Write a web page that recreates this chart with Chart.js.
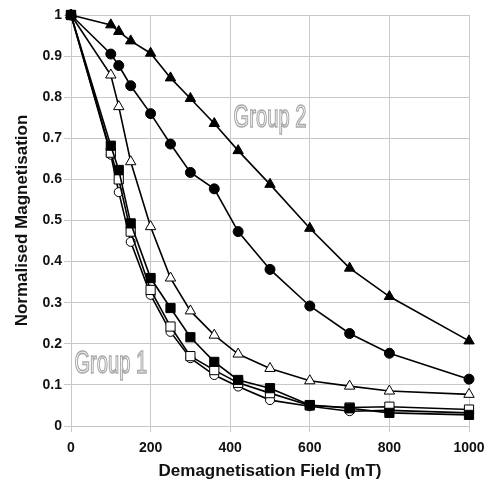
<!DOCTYPE html>
<html lang="en">
<head>
    <meta charset="UTF-8">
    <title>Demagnetisation</title>
    <script src="https://cdn.jsdelivr.net/npm/chart.js"></script>
    <style>
        body { margin: 0; background: #fff; }
        #wrap { width: 487px; height: 488px; }
    </style>
</head>
<body>
    <div id="wrap"><canvas id="demagChart"></canvas></div>

    <script>
        // demagnetisation field steps (mT)
        const fields = [0, 100, 120, 150, 200, 250, 300, 360, 420, 500, 600, 700, 800, 1000];

        // group 2
        const filledTriangles = [1, 0.976, 0.96, 0.937, 0.907, 0.847, 0.797, 0.736, 0.670, 0.588, 0.481, 0.384, 0.315, 0.207];
        const filledCircles   = [1, 0.905, 0.877, 0.828, 0.760, 0.686, 0.617, 0.577, 0.473, 0.381, 0.292, 0.225, 0.177, 0.114];
        // in between
        const openTriangles   = [1, 0.854, 0.777, 0.643, 0.485, 0.360, 0.280, 0.221, 0.175, 0.140, 0.110, 0.097, 0.085, 0.077];
        // group 1
        const filledSquares   = [1, 0.682, 0.623, 0.493, 0.360, 0.287, 0.216, 0.156, 0.112, 0.092, 0.051, 0.043, 0.032, 0.027];
        const openSquares     = [1, 0.665, 0.600, 0.473, 0.331, 0.242, 0.170, 0.136, 0.105, 0.080, 0.050, 0.045, 0.047, 0.040];
        const openCircles     = [1, 0.660, 0.569, 0.448, 0.319, 0.229, 0.165, 0.124, 0.096, 0.063, 0.048, 0.036, 0.038, 0.032];

        const xTicks = [0, 200, 400, 600, 800, 1000];
        const groupLabels = [
            { text: 'Group 2', x: 500, y: 0.75 },
            { text: 'Group 1', x: 100, y: 0.15 }
        ];

        const pts = arr => arr.map((v, i) => ({ x: fields[i], y: v }));

        function series(values, style, filled, radius) {
            return {
                data: pts(values),
                showLine: true,
                clip: false,
                borderColor: '#000',
                borderWidth: 1.6,
                pointStyle: style,
                pointRadius: radius,
                pointBorderWidth: 1,
                pointBorderColor: '#000',
                pointBackgroundColor: filled ? '#000' : '#fff'
            };
        }

        const groupText = {
            id: 'groupText',
            afterDatasetsDraw(chart) {
                const { ctx, scales } = chart;
                ctx.save();
                ctx.font = '32px "Liberation Sans", Arial, sans-serif';
                ctx.textAlign = 'center';
                ctx.textBaseline = 'middle';
                groupLabels.forEach(g => {
                    const px = scales.x.getPixelForValue(g.x);
                    const py = scales.y.getPixelForValue(g.y);
                    ctx.save();
                    ctx.translate(px, py);
                    ctx.scale(0.63, 1);
                    ctx.fillStyle = '#fff';
                    ctx.fillText(g.text, 0, 0);
                    ctx.strokeStyle = '#aaa';
                    ctx.lineWidth = 1.6;
                    ctx.strokeText(g.text, 0, 0);
                    ctx.restore();
                });
                ctx.restore();
            }
        };

        const gridColor = '#c8c8c8';
        const tickFont = { family: '"Liberation Sans", Arial, sans-serif', size: 14, weight: 'bold' };
        const titleFont = { family: '"Liberation Sans", Arial, sans-serif', size: 17, weight: 'bold' };

        const ctx = document.getElementById('demagChart').getContext('2d');
        new Chart(ctx, {
            type: 'scatter',
            data: {
                datasets: [
                    // first dataset is drawn on top
                    series(filledSquares, 'rect', true, 6.5),
                    series(filledTriangles, 'triangle', true, 6),
                    series(filledCircles, 'circle', true, 5),
                    series(openTriangles, 'triangle', false, 6),
                    series(openSquares, 'rect', false, 6.5),
                    series(openCircles, 'circle', false, 4.5)
                ]
            },
            options: {
                responsive: true,
                maintainAspectRatio: false,
                animation: false,
                layout: { padding: { top: 15, right: 18, left: 0, bottom: 0 } },
                plugins: {
                    legend: { display: false },
                    tooltip: { enabled: false }
                },
                scales: {
                    x: {
                        type: 'linear',
                        min: 0,
                        max: 1000,
                        afterBuildTicks: s => { s.ticks = xTicks.map(v => ({ value: v })); },
                        afterFit: s => {
                            s.height = 62;
                            s.paddingLeft = 0;
                            s.paddingRight = 0;
                        },
                        grid: { color: gridColor, tickLength: 6, tickColor: gridColor },
                        border: { color: gridColor },
                        ticks: {
                            color: '#111',
                            font: tickFont,
                            padding: 8,
                            maxRotation: 0,
                            callback: v => String(v)
                        },
                        title: {
                            display: true,
                            text: 'Demagnetisation Field (mT)',
                            color: '#111',
                            font: titleFont,
                            padding: { top: 0, bottom: 6 }
                        }
                    },
                    y: {
                        min: 0,
                        max: 1,
                        afterFit: s => {
                            s.width = 71;
                            s.paddingTop = 0;
                            s.paddingBottom = 0;
                        },
                        grid: { color: gridColor, tickLength: 7, tickColor: gridColor },
                        border: { color: gridColor },
                        ticks: {
                            stepSize: 0.1,
                            color: '#111',
                            font: tickFont,
                            padding: 2,
                            callback: v => String(Math.round(v * 10) / 10)
                        },
                        title: {
                            display: true,
                            text: 'Normalised Magnetisation',
                            color: '#111',
                            font: titleFont,
                            padding: { top: 12, bottom: 0 }
                        }
                    }
                }
            },
            plugins: [groupText]
        });
    </script>
</body>
</html>
